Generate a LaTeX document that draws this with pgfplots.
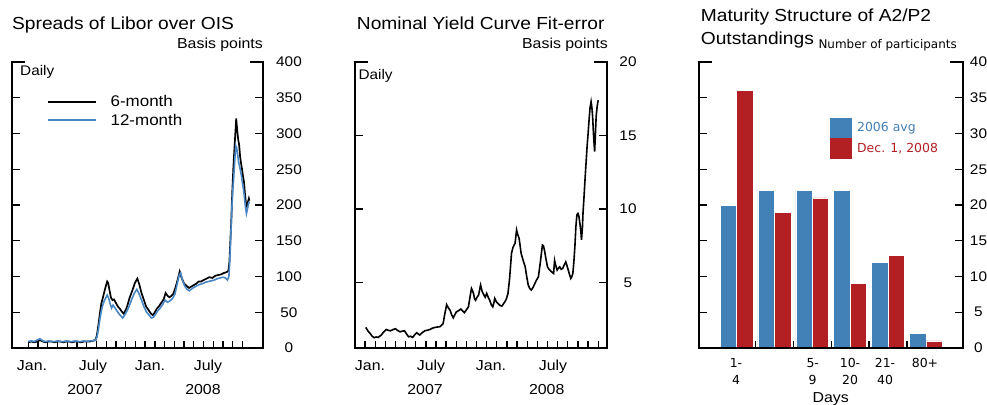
\documentclass[border=0pt]{standalone}
\usepackage{fontspec}
\setmainfont{Liberation Sans}[FakeStretch=1.1]
\newfontfamily\dejavu{DejaVu Sans}
\usepackage{pgfplots}
\pgfplotsset{compat=1.18}
\definecolor{lblue}{RGB}{72,134,196}
\definecolor{bblue}{RGB}{66,128,184}
\definecolor{bred}{RGB}{178,32,36}
\newcommand{\fs}[1]{\fontsize{#1}{#1}\selectfont}

\pgfplotsset{
 myframe/.style={
  scale only axis, height=286bp,
  axis line style={draw=none},
  tick align=inside,
  xtick pos=left,
  ytick pos=both,
  yticklabel pos=right,
  major tick length=8bp,
  tick style={line width=1.3bp, black},
  xtick style={/pgfplots/major tick length=6.5bp},
  xticklabels={},
  /pgf/number format/assume math mode=true,
  scaled y ticks=false,
  ticklabel style={font=\fs{14}},
  after end axis/.append code={
    \draw[line width=1.3bp] ([xshift=13bp]axis description cs:0,1) -- (axis description cs:0,1) -- (axis description cs:0,0) -- (axis description cs:1,0) -- (axis description cs:1,1) -- ([xshift=-13bp]axis description cs:1,1);
  },
 }
}

\begin{document}
\begin{tikzpicture}
% ---------------- Panel 1 ----------------
\begin{axis}[myframe, at={(12bp,57bp)}, anchor=south west, width=251bp,
  xmin=-1.67, xmax=24.1, ymin=0, ymax=400,
  xtick={0,...,22}, ytick={0,50,...,400},
  yticklabel style={anchor=center, xshift=26bp},
  legend style={at={(axis description cs:0.139,0.882)}, anchor=north west, draw=none, fill=none,
    inner sep=0pt, outer sep=0pt, column sep=14bp, row sep=5.5bp, font=\fs{15.5},
    nodes={inner sep=0pt}, cells={anchor=west}},
  legend image code/.code={\draw[#1] (0bp,0bp) -- (48bp,0bp);},
]
\addplot[black, line width=1.7bp] coordinates {
(0,8)(0.3,9)(0.6,8)(0.9,9)(1.2,11)(1.5,9)(1.8,8)(2.1,9)(2.4,9)(2.7,8)(3.0,9)(3.3,9)(3.6,8)(3.9,9)(4.2,9)(4.5,8)(4.8,9)(5.1,9)(5.4,8)(5.7,9)(6.0,9)(6.3,9)(6.6,10)(6.9,11)(7.05,18)(7.2,32)(7.35,48)(7.5,62)(7.65,70)(7.8,78)(7.95,86)(8.1,93)(8.2,91)(8.35,80)(8.5,70)(8.65,67)(8.8,68)(9.0,63)(9.2,58)(9.4,55)(9.6,51)(9.8,48)(10.0,53)(10.15,58)(10.4,70)(10.7,81)(10.95,91)(11.2,97)(11.4,89)(11.6,78)(11.85,68)(12.1,58)(12.35,53)(12.6,48)(12.8,46)(13.0,50)(13.2,55)(13.4,58)(13.65,63)(13.9,68)(14.1,77)(14.3,73)(14.5,71)(14.7,73)(14.9,76)(15.1,84)(15.35,96)(15.55,107)(15.75,98)(16.0,90)(16.25,87)(16.5,84)(16.75,86)(17.0,88)(17.25,90)(17.5,93)(17.75,93)(18.0,95)(18.3,97)(18.6,99)(18.9,98)(19.2,101)(19.5,102)(19.8,103)(20.1,105)(20.35,106)(20.55,108)(20.65,120)(20.75,150)(20.85,180)(20.95,220)(21.05,250)(21.15,275)(21.25,298)(21.35,321)(21.45,305)(21.55,292)(21.65,284)(21.75,268)(21.85,258)(21.95,250)(22.05,240)(22.15,232)(22.25,215)(22.35,203)(22.45,198)(22.55,204)(22.65,209)(22.7,206)
};
\addlegendentry{6-month}
\addplot[lblue, line width=1.6bp] coordinates {
(0,9)(0.3,10)(0.6,9)(0.9,11)(1.2,13)(1.5,10)(1.8,9)(2.1,10)(2.4,9)(2.7,9)(3.0,10)(3.3,9)(3.6,9)(3.9,10)(4.2,9)(4.5,9)(4.8,10)(5.1,9)(5.4,9)(5.7,10)(6.0,9)(6.3,10)(6.6,10)(6.9,11)(7.05,15)(7.2,26)(7.35,40)(7.5,52)(7.65,60)(7.8,66)(7.95,70)(8.1,74)(8.25,70)(8.4,62)(8.55,56)(8.7,60)(8.9,56)(9.1,52)(9.3,48)(9.5,45)(9.7,42)(9.9,46)(10.1,51)(10.35,58)(10.65,69)(10.9,77)(11.15,82)(11.4,75)(11.65,66)(11.9,57)(12.15,50)(12.4,46)(12.65,42)(12.85,43)(13.05,47)(13.3,52)(13.55,56)(13.8,61)(14.05,67)(14.3,64)(14.55,66)(14.8,69)(15.05,75)(15.3,90)(15.5,102)(15.65,105)(15.85,94)(16.05,87)(16.3,82)(16.55,80)(16.8,83)(17.05,85)(17.3,87)(17.6,89)(17.9,90)(18.2,92)(18.5,93)(18.8,94)(19.1,95)(19.4,97)(19.7,98)(20.0,99)(20.25,98)(20.45,95)(20.6,100)(20.7,125)(20.8,160)(20.9,195)(21.0,220)(21.1,240)(21.2,262)(21.3,283)(21.4,280)(21.5,270)(21.6,260)(21.7,254)(21.8,247)(21.9,240)(22.0,230)(22.1,222)(22.2,210)(22.3,197)(22.4,188)(22.5,194)(22.6,201)(22.7,205)
};
\addlegendentry{12-month}
\end{axis}

% ---------------- Panel 2 ----------------
\begin{axis}[myframe, at={(355bp,57bp)}, anchor=south west, width=252bp,
  xmin=-0.99, xmax=23.87, ymin=0.55, ymax=20,
  xtick={0,...,23}, ytick={5,10,15,20},
  yticklabel style={anchor=center, xshift=21bp},
]
\addplot[black, line width=1.6bp] coordinates {
(0.07,1.95)(0.3,1.7)(0.5,1.54)(0.7,1.35)(0.9,1.25)(1.1,1.3)(1.3,1.27)(1.6,1.43)(1.85,1.65)(2.1,1.81)(2.3,1.75)(2.5,1.72)(2.75,1.8)(3.0,1.86)(3.2,1.75)(3.45,1.65)(3.7,1.7)(3.9,1.72)(4.1,1.5)(4.3,1.31)(4.5,1.35)(4.7,1.27)(4.9,1.45)(5.1,1.59)(5.25,1.5)(5.4,1.43)(5.65,1.6)(5.9,1.72)(6.15,1.76)(6.4,1.81)(6.65,1.9)(6.9,1.95)(7.15,1.98)(7.4,2.0)(7.55,2.1)(7.7,2.2)(7.85,2.8)(8.05,3.5)(8.2,3.3)(8.4,3.1)(8.55,2.8)(8.7,2.6)(8.85,2.8)(9.0,3.0)(9.25,3.1)(9.45,3.2)(9.65,3.05)(9.8,2.95)(10.0,3.15)(10.2,3.35)(10.35,4.0)(10.5,4.6)(10.6,4.45)(10.7,4.26)(10.8,3.9)(10.9,3.8)(11.05,4.0)(11.2,4.15)(11.3,4.5)(11.4,4.83)(11.55,4.4)(11.7,4.2)(11.85,4.0)(12.0,4.26)(12.15,4.0)(12.3,3.8)(12.45,3.5)(12.6,3.35)(12.7,3.6)(12.8,3.92)(12.95,3.7)(13.1,3.58)(13.3,3.45)(13.5,3.4)(13.65,3.55)(13.8,3.7)(13.95,3.9)(14.1,4.26)(14.25,5.2)(14.35,6.07)(14.45,7.0)(14.6,7.4)(14.8,7.67)(14.95,8.57)(15.05,8.3)(15.2,8.0)(15.3,7.5)(15.4,6.98)(15.6,6.5)(15.8,6.07)(15.95,5.4)(16.1,4.83)(16.25,4.6)(16.4,4.49)(16.6,4.7)(16.75,4.94)(16.9,5.15)(17.1,5.39)(17.2,5.9)(17.3,6.41)(17.4,7.0)(17.5,7.55)(17.6,7.5)(17.7,7.2)(17.85,6.6)(18.0,6.07)(18.15,5.9)(18.3,5.8)(18.45,5.7)(18.6,5.62)(18.7,6.5)(18.8,6.2)(18.95,5.85)(19.1,6.0)(19.2,6.07)(19.35,5.9)(19.5,5.96)(19.65,6.2)(19.8,6.41)(19.9,6.2)(20.0,5.96)(20.15,5.6)(20.3,5.28)(20.4,5.4)(20.5,5.62)(20.6,6.4)(20.7,7.43)(20.8,8.8)(20.9,9.6)(21.0,9.7)(21.1,9.5)(21.2,9.0)(21.3,8.4)(21.35,7.9)(21.45,8.8)(21.5,9.7)(21.6,10.8)(21.7,12.0)(21.8,13.1)(21.9,14.2)(22.0,15.1)(22.1,16.05)(22.2,16.9)(22.3,17.3)(22.38,16.9)(22.45,16.3)(22.5,15.6)(22.55,14.9)(22.65,13.9)(22.72,15.0)(22.8,16.3)(22.9,17.0)(23.0,17.4)
};
\end{axis}

% ---------------- Panel 3 ----------------
\begin{axis}[myframe, at={(699bp,57bp)}, anchor=south west, width=264bp,
  xmin=-0.99, xmax=5.98, ymin=0, ymax=40,
  xtick={0.5,1.5,2.5,3.5,4.5}, ytick={0,5,...,40},
  yticklabel style={anchor=center, xshift=15.5bp},
  legend style={at={(axis description cs:0.496,0.804)}, anchor=north west, draw=none, fill=none,
    inner sep=0pt, outer sep=0pt, column sep=6bp, row sep=0pt, font=\dejavu\fs{12.5},
    nodes={inner sep=0pt}, cells={anchor=west}},
]
\addplot[ybar, bar width=0.435, bar shift=-0.2175, fill=bblue, draw=white, line width=0.5bp,
  legend image code/.code={\fill[bblue] (0bp,-9.8bp) rectangle (20.7bp,9.8bp);}]
  coordinates {(0,20)(1,22)(2,22)(3,22)(4,12)(5,2)};
\addlegendentry{\textcolor{bblue}{2006 avg}}
\addplot[ybar, bar width=0.435, bar shift=0.2175, fill=bred, draw=white, line width=0.5bp,
  legend image code/.code={\fill[bred] (0bp,-9.8bp) rectangle (20.7bp,9.8bp);}]
  coordinates {(0,36)(1,19)(2,21)(3,9)(4,13)(5,1)};
\addlegendentry{\textcolor{bred}{Dec. 1, 2008}}
\end{axis}

% ---------------- texts ----------------
% panel 1
\node[anchor=base west, inner sep=0pt, font=\fs{17.5}] at (12bp,375.7bp) {Spreads of Libor over OIS};
\node[anchor=base east, inner sep=0pt, font=\fs{14.5}] at (263bp,356.7bp) {Basis points};
\node[anchor=base west, inner sep=0pt, font=\fs{14}] at (20bp,329bp) {Daily};
\foreach \x/\t in {32/Jan., 93/July, 150/Jan., 208/July}
  \node[anchor=base, inner sep=0pt, font=\fs{14.5}] at (\x bp,35bp) {\t};
\node[anchor=base, inner sep=0pt, font=\fs{14.5}] at (85bp,11bp) {2007};
\node[anchor=base, inner sep=0pt, font=\fs{14.5}] at (203bp,11bp) {2008};
% panel 2
\node[anchor=base west, inner sep=0pt, font=\fs{17.5}] at (356.7bp,375.7bp) {Nominal Yield Curve Fit-error};
\node[anchor=base east, inner sep=0pt, font=\fs{14.5}] at (608bp,356.7bp) {Basis points};
\node[anchor=base west, inner sep=0pt, font=\fs{14}] at (358.3bp,325bp) {Daily};
\foreach \x/\t in {370/Jan., 431/July, 491/Jan., 553/July}
  \node[anchor=base, inner sep=0pt, font=\fs{14.5}] at (\x bp,35bp) {\t};
\node[anchor=base, inner sep=0pt, font=\fs{14.5}] at (425bp,11bp) {2007};
\node[anchor=base, inner sep=0pt, font=\fs{14.5}] at (546.7bp,11bp) {2008};
% panel 3
\node[anchor=base west, inner sep=0pt, font=\fs{17.5}] at (700.7bp,383.3bp) {Maturity Structure of A2/P2};
\node[anchor=base west, inner sep=0pt, font=\fs{17.5}] at (700.7bp,360bp) {Outstandings};
\node[anchor=base west, inner sep=0pt, font=\dejavu\fs{12}] at (818.3bp,356.7bp) {Number of participants};
\foreach \x/\a/\b in {736/1-/4, 812.7/5-/9, 850/10-/20, 885/21-/40}{
  \node[anchor=base, inner sep=0pt, font=\dejavu\fs{12.5}] at (\x bp,37.3bp) {\a};
  \node[anchor=base, inner sep=0pt, font=\dejavu\fs{12.5}] at (\x bp,20.7bp) {\b};
}
\node[anchor=base, inner sep=0pt, font=\dejavu\fs{12.5}] at (925bp,37.3bp) {80+};
\node[anchor=base, inner sep=0pt, font=\fs{14.5}] at (830.7bp,2.3bp) {Days};

\pgfresetboundingbox
\path[use as bounding box] (0,0) rectangle (987bp,405bp);
\end{tikzpicture}
\end{document}
